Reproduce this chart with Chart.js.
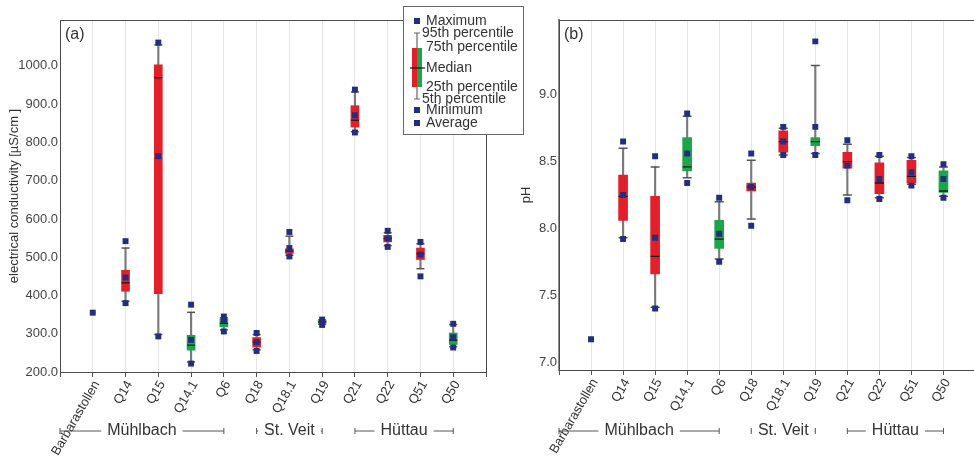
<!DOCTYPE html>
<html>
<head>
<meta charset="utf-8">
<script src="https://cdn.jsdelivr.net/npm/chart.js@4.4.1/dist/chart.umd.min.js"></script>
<style>
  html, body { margin: 0; padding: 0; background: #fff; }
  body { width: 974px; height: 461px; overflow: hidden; position: relative; }
  canvas { position: absolute; top: 0; }
  #chartA { left: 0; }
  #chartB { left: 490px; }
</style>
</head>
<body>
<canvas id="chartA" width="530" height="461"></canvas>
<canvas id="chartB" width="500" height="461"></canvas>
<script>
// sampling sites (x axis)
const categories = ['Barbarastollen', 'Q14', 'Q15', 'Q14.1', 'Q6', 'Q18', 'Q18.1', 'Q19', 'Q21', 'Q22', 'Q51', 'Q50'];

// (a) electrical conductivity [µS/cm]
const condMax    = [null, 542, 1061, 376, 345, 302, 566, 337, 938, 569, 540, 326];
const condP95    = [null, 524, 1055, 356, 342, 298, 555, 336, 932, 564, 535, 324];
const condQ75    = [null, 466, 1003, 296, 339, 290, 522, 334, 896, 557, 524, 302];
const condMedian = [null, 433,  969, 270, 327, 278, 516, 331, 858, 549, 509, 283];
const condQ25    = [null, 411,  405, 257, 318, 265, 510, 328, 840, 540, 494, 272];
const condP5     = [null, 385,  298, 226, 310, 258, 505, 325, 828, 530, 470, 266];
const condMin    = [null, 380,  293, 222, 306, 255, 502, 323, 826, 527, 450, 264];
const condAvg    = [355,  447,  764, 284, 335, 278, 524, 331, 871, 549, 507, 291];
const condTicks  = [200, 300, 400, 500, 600, 700, 800, 900, 1000];

// (b) pH
const phMax    = [null, 8.65, 8.54, 8.86, 8.23, 8.56, 8.76, 9.40, 8.66, 8.55, 8.54, 8.48];
const phP95    = [null, 8.60, 8.46, 8.84, 8.20, 8.51, 8.75, 9.22, 8.63, 8.54, 8.53, 8.46];
const phQ75    = [null, 8.40, 8.24, 8.68, 8.06, 8.34, 8.73, 8.68, 8.57, 8.49, 8.51, 8.43];
const phMedian = [null, 8.24, 7.79, 8.46, 7.92, 8.31, 8.65, 8.65, 8.50, 8.34, 8.39, 8.28];
const phQ25    = [null, 8.06, 7.66, 8.43, 7.85, 8.28, 8.57, 8.62, 8.45, 8.26, 8.34, 8.27];
const phP5     = [null, 7.93, 7.41, 8.38, 7.77, 8.07, 8.55, 8.56, 8.25, 8.23, 8.33, 8.24];
const phMin    = [null, 7.92, 7.40, 8.34, 7.75, 8.02, 8.55, 8.55, 8.21, 8.22, 8.32, 8.23];
const phAvg    = [7.17, 8.25, 7.93, 8.56, 7.96, 8.31, 8.65, 8.76, 8.47, 8.37, 8.42, 8.37];
const phTicks  = [7.0, 7.5, 8.0, 8.5, 9.0];

// catchment brackets under the axis (x-axis values)
const groupNames = ['Mühlbach', 'St. Veit', 'Hüttau'];
const groupFrom  = [0, 6, 9];
const groupTo    = [5, 8, 12];

// styles
const RED = '#e3202a', GREEN = '#1ca64c', NAVY = '#262d7e';
const boxColors = [null, RED, RED, GREEN, GREEN, RED, RED, GREEN, RED, RED, RED, GREEN];
const FONT = "'Liberation Sans', Arial, sans-serif";

Chart.defaults.font.family = FONT;
Chart.defaults.color = '#333';

const pts = (arr) => categories.map((c, i) => ({ x: i + 1, y: arr[i] }));
const range = (lo, hi) => categories.map((c, i) => ({
  x: i + 1,
  y: lo[i] == null || hi[i] == null ? null : [lo[i], hi[i]]
}));

function boxDatasets(s, boxW) {
  const marker = (arr) => ({
    type: 'scatter', data: pts(arr), pointStyle: 'rect', pointRadius: 4.2,
    backgroundColor: NAVY, borderWidth: 0, order: 0
  });
  const tick = (arr, color, width, order) => ({
    type: 'scatter', data: pts(arr), pointStyle: 'line', pointRadius: boxW / 2,
    borderColor: color, borderWidth: width, order: order
  });
  return [
    { type: 'bar', data: range(s.p5, s.p95), barThickness: 1.5, backgroundColor: '#7a7a7a', grouped: false, order: 4 },
    { type: 'bar', data: range(s.q25, s.q75), barThickness: boxW, backgroundColor: boxColors, grouped: false, order: 3 },
    tick(s.p95, '#555', 1.5, 2),
    tick(s.p5, '#555', 1.5, 2),
    tick(s.median, '#1a1a1a', 1.3, 1),
    marker(s.max), marker(s.min), marker(s.avg)
  ];
}

function drawLegend(ctx) {
  ctx.fillStyle = '#fff';
  ctx.fillRect(403.5, 6.5, 120, 128);
  ctx.strokeStyle = '#666';
  ctx.lineWidth = 1;
  ctx.strokeRect(403.5, 6.5, 120, 128);

  // whisker + box
  ctx.strokeStyle = '#666';
  ctx.lineWidth = 1.2;
  ctx.beginPath();
  ctx.moveTo(417, 33); ctx.lineTo(417, 99);
  ctx.moveTo(414, 33); ctx.lineTo(420, 33);
  ctx.moveTo(414, 99); ctx.lineTo(420, 99);
  ctx.stroke();
  ctx.fillStyle = RED;
  ctx.fillRect(412, 48, 5, 39);
  ctx.fillStyle = GREEN;
  ctx.fillRect(417, 48, 5, 39);
  ctx.strokeStyle = '#111';
  ctx.beginPath();
  ctx.moveTo(410, 68); ctx.lineTo(425, 68);
  ctx.stroke();

  ctx.fillStyle = NAVY;
  [21, 110, 123].forEach(y => ctx.fillRect(414, y - 3, 6, 6));

  ctx.fillStyle = '#333';
  ctx.font = '14px ' + FONT;
  ctx.textAlign = 'left';
  ctx.textBaseline = 'middle';
  ctx.fillText('Maximum', 426, 21);
  ctx.fillText('95th percentile', 422, 33);
  ctx.fillText('75th percentile', 426, 47);
  ctx.fillText('Median', 426, 68);
  ctx.fillText('25th percentile', 426, 87);
  ctx.fillText('5th percentile', 422, 99);
  ctx.fillText('Minimum', 426, 110);
  ctx.fillText('Average', 426, 123);
}

const decor = {
  id: 'decor',
  beforeDatasetsDraw(chart) {
    const { ctx, chartArea: a } = chart;
    ctx.save();
    ctx.strokeStyle = '#4a4a4a';
    ctx.lineWidth = 1;
    ctx.strokeRect(Math.round(a.left) + 0.5, Math.round(a.top) + 0.5, a.width, a.height);
    ctx.restore();
  },
  afterDraw(chart, args, opts) {
    const { ctx, chartArea: a, scales: { x } } = chart;
    ctx.save();
    ctx.fillStyle = '#333';
    ctx.font = '16px ' + FONT;
    ctx.textBaseline = 'middle';
    ctx.textAlign = 'left';
    ctx.fillText(opts.panel, a.left + 5, a.top + 15);

    // catchment brackets
    const y = 431;
    ctx.strokeStyle = '#555';
    ctx.lineWidth = 1;
    ctx.textAlign = 'center';
    groupNames.forEach((name, i) => {
      const x0 = x.getPixelForValue(groupFrom[i]);
      const x1 = x.getPixelForValue(groupTo[i]);
      const w = ctx.measureText(name).width;
      const cx = (x0 + x1) / 2;
      ctx.beginPath();
      ctx.moveTo(x0, y); ctx.lineTo(Math.max(x0, cx - w / 2 - 6), y);
      ctx.moveTo(Math.min(x1, cx + w / 2 + 6), y); ctx.lineTo(x1, y);
      ctx.moveTo(x0, y - 3); ctx.lineTo(x0, y + 3);
      ctx.moveTo(x1, y - 3); ctx.lineTo(x1, y + 3);
      ctx.stroke();
      ctx.fillText(name, cx, y);
    });

    if (opts.legend) drawLegend(ctx);
    ctx.restore();
  }
};

function xScale(height) {
  return {
    type: 'linear', min: 0, max: 13, offset: false,
    afterFit: (s) => { s.height = height; },
    ticks: {
      stepSize: 1, autoSkip: false, minRotation: 60, maxRotation: 60, padding: 1, labelOffset: 4,
      font: { size: 13 }, color: '#333',
      callback: (v) => categories[v - 1] || ''
    },
    grid: { color: '#e6e6e6', lineWidth: 1, offset: false, tickLength: 5, tickColor: '#555' },
    border: { color: '#333', width: 1 }
  };
}

function yScale(min, max, ticks, title, width, border) {
  return {
    type: 'linear', min: min, max: max,
    afterFit: (s) => { s.width = width; },
    afterBuildTicks: (s) => { s.ticks = ticks.map(v => ({ value: v })); },
    ticks: { padding: 2, font: { size: 13 }, color: '#444', callback: (v) => v.toFixed(1) },
    grid: { display: false, drawTicks: false },
    border: border,
    title: { display: true, text: title, font: { size: 13 }, color: '#333', padding: { top: 4, bottom: 0 } }
  };
}

const common = {
  responsive: false,
  animation: false,
  events: [],
  plugins: { legend: { display: false }, tooltip: { enabled: false } }
};

new Chart(document.getElementById('chartA'), {
  type: 'bar',
  data: {
    datasets: boxDatasets({
      max: condMax, p95: condP95, q75: condQ75, median: condMedian,
      q25: condQ25, p5: condP5, min: condMin, avg: condAvg
    }, 8)
  },
  options: Object.assign({}, common, {
    layout: { padding: { left: 3, right: 44, top: 20, bottom: 0 } },
    scales: {
      x: xScale(89),
      y: yScale(200, 1120, condTicks, 'electrical conductivity [µS/cm ]', 57, { color: '#4a4a4a', width: 1 })
    },
    plugins: Object.assign({}, common.plugins, { decor: { panel: '(a)', legend: true } })
  }),
  plugins: [decor]
});

new Chart(document.getElementById('chartB'), {
  type: 'bar',
  data: {
    datasets: boxDatasets({
      max: phMax, p95: phP95, q75: phQ75, median: phMedian,
      q25: phQ25, p5: phP5, min: phMin, avg: phAvg
    }, 9)
  },
  options: Object.assign({}, common, {
    layout: { padding: { left: 25, right: 6, top: 20, bottom: 0 } },
    scales: {
      x: xScale(91),
      y: yScale(6.94, 9.56, phTicks, 'pH', 44, { color: '#8c8c8c', width: 2 })
    },
    plugins: Object.assign({}, common.plugins, { decor: { panel: '(b)', legend: false } })
  }),
  plugins: [decor]
});
</script>
</body>
</html>
